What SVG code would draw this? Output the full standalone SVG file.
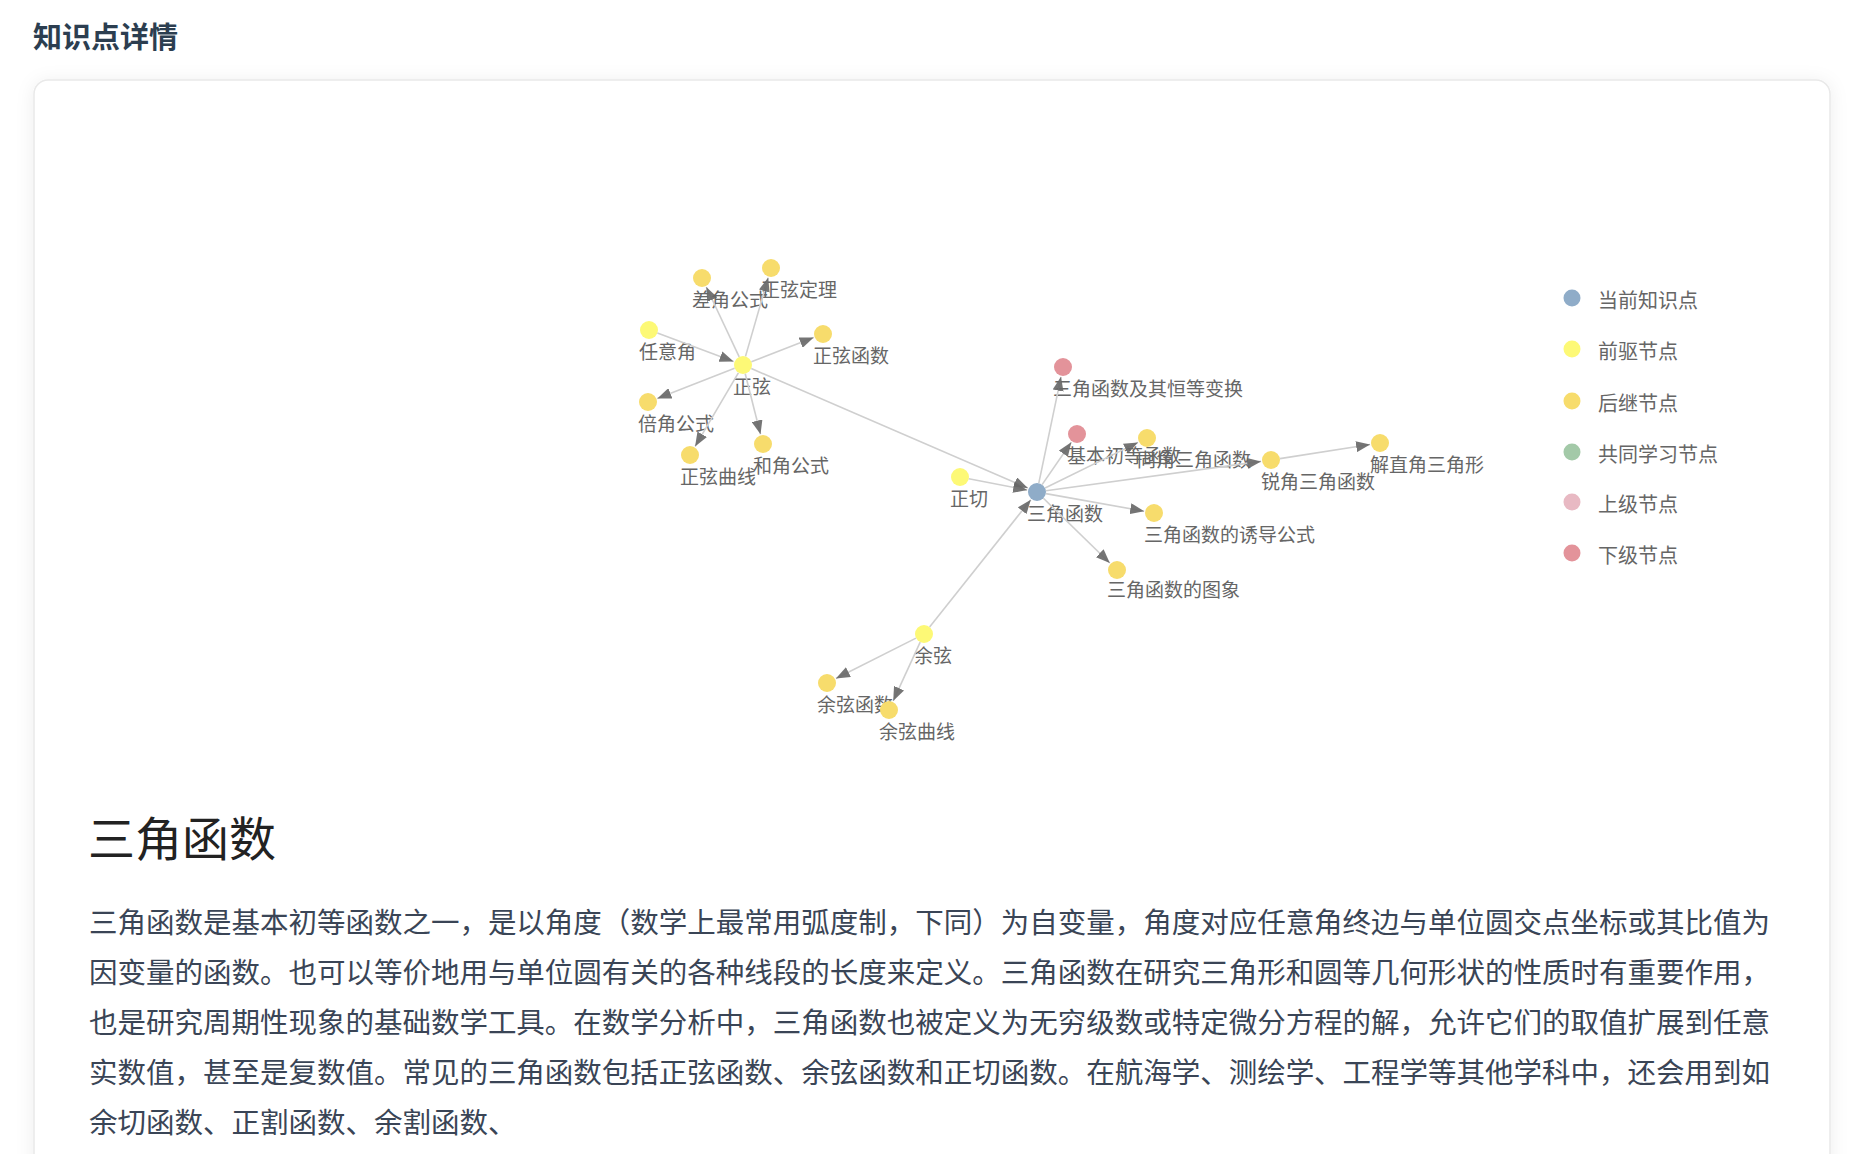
<svg xmlns="http://www.w3.org/2000/svg" width="1854" height="1154" viewBox="0 0 1854 1154">
<defs>
<filter id="shadow" x="-5%" y="-5%" width="110%" height="110%">
<feDropShadow dx="0" dy="2" stdDeviation="9" flood-color="#000" flood-opacity="0.07"/>
</filter>
<marker id="arrow" viewBox="0 0 14 11" refX="14" refY="5.5" markerWidth="14" markerHeight="11" markerUnits="userSpaceOnUse" orient="auto">
<path d="M0,0 L14,5.5 L0,11 z" fill="#666" fill-opacity="0.9"/>
</marker>
</defs>
<style>
text{font-family:"Noto Sans CJK SC","Noto Sans",sans-serif;}
.lbl{font-size:19px;fill:#666;}
.leg{font-size:20px;fill:#666;}
.cur{fill:#8facc8;}
.pre{fill:#fdf976;}
.suc{fill:#f7dc6c;}
.co{fill:#a3c9a8;}
.up{fill:#e8b9c3;}
.down{fill:#e3939a;}
.edge line{stroke:#cfcfcf;stroke-width:1.6;marker-end:url(#arrow);}
.para{font-size:28.5px;fill:#3a4556;}
</style>
<rect x="0" y="0" width="1854" height="1154" fill="#ffffff"/>
<text x="33" y="48" font-size="29" font-weight="700" fill="#2c3e50">知识点详情</text>
<rect x="34" y="80" width="1796" height="1110" rx="14" ry="14" fill="#ffffff" stroke="#e9e9e9" stroke-width="1.5" filter="url(#shadow)"/>

<g id="nodes">
<g id="n-renyijiao"><circle cx="649" cy="330" r="9" class="pre"/><text class="lbl" x="639" y="359">任意角</text></g>
<g id="n-chajiao"><circle cx="702" cy="278" r="9" class="suc"/><text class="lbl" x="692" y="307">差角公式</text></g>
<g id="n-zxdingli"><circle cx="771" cy="268" r="9" class="suc"/><text class="lbl" x="761" y="297">正弦定理</text></g>
<g id="n-zxhanshu"><circle cx="823" cy="334" r="9" class="suc"/><text class="lbl" x="813" y="363">正弦函数</text></g>
<g id="n-beijiao"><circle cx="648" cy="402" r="9" class="suc"/><text class="lbl" x="638" y="431">倍角公式</text></g>
<g id="n-zxquxian"><circle cx="690" cy="455" r="9" class="suc"/><text class="lbl" x="680" y="484">正弦曲线</text></g>
<g id="n-hejiao"><circle cx="763" cy="444" r="9" class="suc"/><text class="lbl" x="753" y="473">和角公式</text></g>
<g id="n-zhengxian"><circle cx="743" cy="365" r="9" class="pre"/><text class="lbl" x="733" y="394">正弦</text></g>
<g id="n-hengdeng"><circle cx="1063" cy="367" r="9" class="down"/><text class="lbl" x="1053" y="396">三角函数及其恒等变换</text></g>
<g id="n-jiben"><circle cx="1077" cy="434" r="9" class="down"/><text class="lbl" x="1067" y="463">基本初等函数</text></g>
<g id="n-tongjiao"><circle cx="1147" cy="438" r="9" class="suc"/><text class="lbl" x="1137" y="467">同角三角函数</text></g>
<g id="n-ruijiao"><circle cx="1271" cy="460" r="9" class="suc"/><text class="lbl" x="1261" y="489">锐角三角函数</text></g>
<g id="n-jiezhijiao"><circle cx="1380" cy="443" r="9" class="suc"/><text class="lbl" x="1370" y="472">解直角三角形</text></g>
<g id="n-zhengqie"><circle cx="960" cy="477" r="9" class="pre"/><text class="lbl" x="950" y="506">正切</text></g>
<g id="n-sanjiao"><circle cx="1037" cy="492" r="9" class="cur"/><text class="lbl" x="1027" y="521">三角函数</text></g>
<g id="n-youdao"><circle cx="1154" cy="513" r="9" class="suc"/><text class="lbl" x="1144" y="542">三角函数的诱导公式</text></g>
<g id="n-tuxiang"><circle cx="1117" cy="570" r="9" class="suc"/><text class="lbl" x="1107" y="597">三角函数的图象</text></g>
<g id="n-yuxian"><circle cx="924" cy="634" r="9" class="pre"/><text class="lbl" x="914" y="663">余弦</text></g>
<g id="n-yxhanshu"><circle cx="827" cy="683" r="9" class="suc"/><text class="lbl" x="817" y="712">余弦函数</text></g>
<g id="n-yxquxian"><circle cx="889" cy="710" r="9" class="suc"/><text class="lbl" x="879" y="739">余弦曲线</text></g>
</g>

<g id="connectors" class="edge">
<line x1="657.4" y1="333.1" x2="733.6" y2="361.5"/>
<line x1="739.2" y1="356.9" x2="706.3" y2="287.0"/>
<line x1="745.5" y1="356.4" x2="768.2" y2="277.6"/>
<line x1="751.4" y1="361.8" x2="813.7" y2="337.6"/>
<line x1="734.6" y1="368.3" x2="657.3" y2="398.4"/>
<line x1="738.4" y1="372.8" x2="695.1" y2="446.4"/>
<line x1="745.2" y1="373.7" x2="760.5" y2="434.3"/>
<line x1="751.3" y1="368.6" x2="1027.8" y2="488.0"/>
<line x1="968.8" y1="478.7" x2="1027.2" y2="490.1"/>
<line x1="929.6" y1="627.0" x2="1030.8" y2="499.8"/>
<line x1="916.0" y1="638.1" x2="835.9" y2="678.5"/>
<line x1="920.2" y1="642.2" x2="893.2" y2="700.9"/>
<line x1="1038.8" y1="483.2" x2="1061.0" y2="376.8"/>
<line x1="1042.1" y1="484.6" x2="1071.3" y2="442.2"/>
<line x1="1045.1" y1="488.0" x2="1138.0" y2="442.4"/>
<line x1="1045.9" y1="490.8" x2="1261.1" y2="461.4"/>
<line x1="1279.9" y1="458.6" x2="1370.1" y2="444.5"/>
<line x1="1045.9" y1="493.6" x2="1144.2" y2="511.2"/>
<line x1="1043.4" y1="498.3" x2="1109.8" y2="563.0"/>
</g>

<g id="legend">
<g id="leg-cur"><circle cx="1572" cy="298" r="8.5" class="cur"/><text class="leg" x="1598" y="308">当前知识点</text></g>
<g id="leg-pre"><circle cx="1572" cy="349" r="8.5" class="pre"/><text class="leg" x="1598" y="359">前驱节点</text></g>
<g id="leg-suc"><circle cx="1572" cy="401" r="8.5" class="suc"/><text class="leg" x="1598" y="411">后继节点</text></g>
<g id="leg-co"><circle cx="1572" cy="452" r="8.5" class="co"/><text class="leg" x="1598" y="462">共同学习节点</text></g>
<g id="leg-up"><circle cx="1572" cy="502" r="8.5" class="up"/><text class="leg" x="1598" y="512">上级节点</text></g>
<g id="leg-down"><circle cx="1572" cy="553" r="8.5" class="down"/><text class="leg" x="1598" y="563">下级节点</text></g>
</g>

<text x="88" y="856" font-size="47" fill="#222">三角函数</text>
<text class="para" x="89" y="933" textLength="1681" lengthAdjust="spacing">三角函数是基本初等函数之一，是以角度（数学上最常用弧度制，下同）为自变量，角度对应任意角终边与单位圆交点坐标或其比值为</text>
<text class="para" x="89" y="983" textLength="1681" lengthAdjust="spacing">因变量的函数。也可以等价地用与单位圆有关的各种线段的长度来定义。三角函数在研究三角形和圆等几何形状的性质时有重要作用，</text>
<text class="para" x="89" y="1033" textLength="1681" lengthAdjust="spacing">也是研究周期性现象的基础数学工具。在数学分析中，三角函数也被定义为无穷级数或特定微分方程的解，允许它们的取值扩展到任意</text>
<text class="para" x="89" y="1083" textLength="1681" lengthAdjust="spacing">实数值，甚至是复数值。常见的三角函数包括正弦函数、余弦函数和正切函数。在航海学、测绘学、工程学等其他学科中，还会用到如</text>
<text class="para" x="89" y="1133">余切函数、正割函数、余割函数、</text>
</svg>
